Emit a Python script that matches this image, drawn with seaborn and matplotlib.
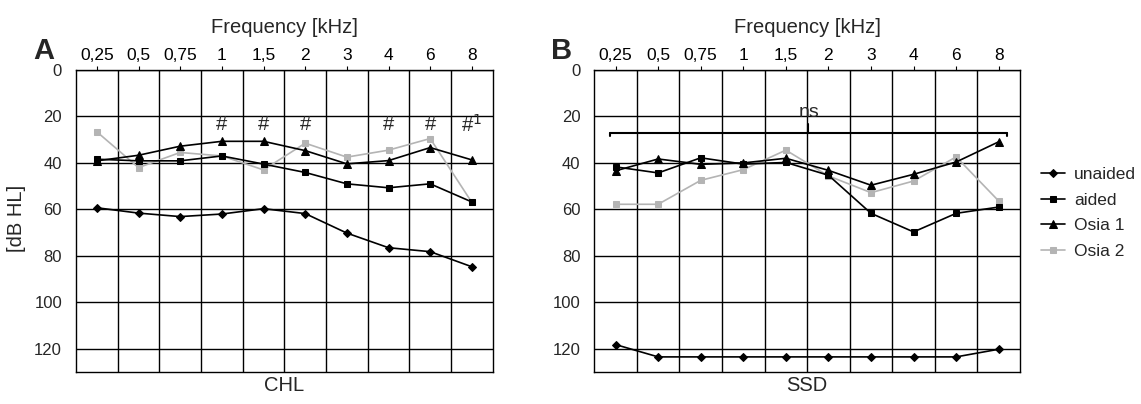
import numpy as np
import pandas as pd
import seaborn as sns
import matplotlib
matplotlib.use("Agg")
from matplotlib import pyplot as plt

freq_labels = ["0,25", "0,5", "0,75", "1", "1,5", "2", "3", "4", "6", "8"]
conditions = ["unaided", "aided", "Osia 1", "Osia 2"]

# panel A - CHL
chl_unaided = [59.3, 61.6, 63.1, 62.0, 59.7, 61.8, 70.2, 76.5, 78.2, 84.7]
chl_aided = [38.4, 39.1, 39.1, 37.0, 40.5, 44.1, 49.0, 50.7, 49.0, 56.8]
chl_osia1 = [39.1, 36.7, 32.8, 30.7, 30.7, 34.7, 40.4, 39.0, 33.4, 38.7]
chl_osia2 = [26.6, 42.0, 35.5, 37.0, 43.0, 31.5, 37.5, 34.5, 29.5, 57.0]

# panel B - SSD
ssd_unaided = [118.2, 123.5, 123.5, 123.5, 123.5, 123.5, 123.5, 123.5, 123.5, 120.2]
ssd_aided = [41.7, 44.3, 37.8, 40.5, 39.8, 45.3, 61.7, 69.7, 61.7, 59.0]
ssd_osia1 = [43.4, 38.3, 40.6, 40.0, 38.0, 43.2, 49.6, 44.9, 39.6, 30.9]
ssd_osia2 = [57.8, 57.8, 47.5, 42.9, 34.5, 45.6, 52.8, 47.8, 37.4, 56.4]

# significance marks (panel A)
sig_pos = [3, 4, 5, 7, 8, 9]
sig_text = ["#", "#", "#", "#", "#", "#$^1$"]


def long_df(series):
    rows = []
    for cond, vals in zip(conditions, series):
        for i, v in enumerate(vals):
            rows.append({"pos": i, "dB": v, "cond": cond})
    return pd.DataFrame(rows)


sns.set_style("white")
plt.rcParams["font.family"] = ["Liberation Sans", "DejaVu Sans"]

palette = {"unaided": "black", "aided": "black", "Osia 1": "black", "Osia 2": "#b4b4b4"}
markers = {"unaided": "D", "aided": "s", "Osia 1": "^", "Osia 2": "s"}
msize = {"unaided": 3.8, "aided": 5.0, "Osia 1": 5.2, "Osia 2": 5.0}

fig = plt.figure(figsize=(11.41, 4.04), dpi=100)
axA = fig.add_axes([76 / 1141, 1 - 372 / 404, 416.7 / 1141, 302 / 404])
axB = fig.add_axes([594.3 / 1141, 1 - 372 / 404, 425.7 / 1141, 302 / 404])

panels = [
    (axA, [chl_unaided, chl_aided, chl_osia1, chl_osia2], "CHL", "A"),
    (axB, [ssd_unaided, ssd_aided, ssd_osia1, ssd_osia2], "SSD", "B"),
]

for ax, series, name, letter in panels:
    df = long_df(series)
    for cond in ["Osia 2", "unaided", "aided", "Osia 1"]:
        sub = df[df["cond"] == cond]
        sns.lineplot(
            data=sub, x="pos", y="dB", ax=ax, color=palette[cond],
            marker=markers[cond], markersize=msize[cond],
            markeredgecolor=palette[cond], linewidth=1.2, label=cond,
            zorder=3 if cond != "Osia 2" else 2,
        )
    ax.get_legend().remove()
    ax.set_xlim(-0.5, 9.5)
    ax.set_ylim(130, 0)
    ax.set_yticks(np.arange(0, 121, 20))
    ax.set_xticks(range(10))
    ax.set_xticklabels(freq_labels, fontsize=12.5)
    ax.set_xticks(np.arange(0.5, 9, 1), minor=True)
    ax.xaxis.tick_top()
    ax.xaxis.set_label_position("top")
    ax.tick_params(axis="x", which="major", length=3, width=0.8, pad=2, colors="black")
    ax.tick_params(axis="x", which="minor", length=0)
    ax.tick_params(axis="y", length=0, pad=10, labelsize=12)
    ax.grid(which="minor", axis="x", color="black", linewidth=1.0)
    ax.grid(which="major", axis="y", color="black", linewidth=1.0)
    ax.grid(which="major", axis="x", visible=False)
    for s in ax.spines.values():
        s.set_color("black")
        s.set_linewidth(1.0)
    ax.set_xlabel("Frequency [kHz]", fontsize=14.5, labelpad=11)
    ax.set_ylabel("")
    ax.text(0.5, -0.045, name, transform=ax.transAxes, ha="center", va="center", fontsize=14.5)
    ax.text(-43 / ax.get_position().width / 1141, 1.015, letter, transform=ax.transAxes,
            ha="left", va="bottom", fontsize=21, fontweight="bold")

fig.text(17 / 1141, 1 - 218 / 404, "[dB HL]", rotation=90, ha="center", va="center",
         fontsize=14.5)

for p, t in zip(sig_pos, sig_text):
    axA.text(p, 23.5, t, ha="center", va="center", fontsize=14.5)

# ns bracket, panel B
yb = 27.1
axB.plot([-0.13, 9.19], [yb, yb], color="black", lw=1.5, zorder=4)
axB.plot([-0.13, -0.13], [yb, yb + 1.2], color="black", lw=1.5, zorder=4)
axB.plot([9.19, 9.19], [yb, yb + 1.2], color="black", lw=1.5, zorder=4)
axB.plot([4.52, 4.52], [yb, yb - 4], color="black", lw=1.5, zorder=4)
axB.text(4.55, 18.5, "ns", ha="center", va="center", fontsize=14)

handles, labels = axB.get_legend_handles_labels()
order = [labels.index(c) for c in conditions]
fig.legend([handles[i] for i in order], conditions, loc="upper left",
           bbox_to_anchor=(1034 / 1141, 1 - 160 / 404), frameon=False,
           fontsize=12.5, handlelength=1.4, handletextpad=0.5, labelspacing=0.6,
           borderaxespad=0)

fig.savefig("out.png", dpi=100)
